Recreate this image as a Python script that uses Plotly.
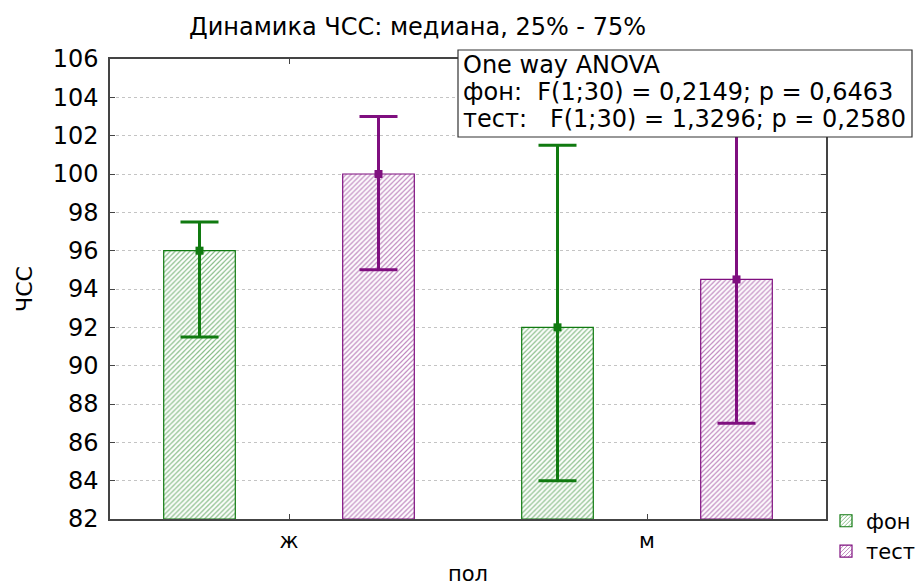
import plotly.graph_objects as go

categories = ["ж", "м"]
series_names = ["фон", "тест"]
median_fon = [96, 92]
q25_fon = [91.5, 84]
q75_fon = [97.5, 101.5]
median_test = [100, 94.5]
q25_test = [95, 87]
q75_test = [103, 103]
y_ticks = list(range(82, 107, 2))
anova_lines = [
    "One way ANOVA",
    "фон:\u00a0\u00a0F(1;30) = 0,2149; p = 0,6463",
    "тест:\u00a0\u00a0\u00a0F(1;30) = 1,3296; p = 0,2580",
]

GREEN = "#107a10"
PURPLE = "#7f0f7f"
FONT = "DejaVu Sans, Liberation Sans, Arial, sans-serif"

# plot-area geometry (pixels) used for paper-coordinate placement of text
PL, PR, PT, PB = 110, 826, 59, 519
def px(x):
    return (x - PL) / (PR - PL)
def py(y):
    return (PB - y) / (PB - PT)

series = [
    (series_names[0], median_fon, q25_fon, q75_fon, GREEN, -0.25),
    (series_names[1], median_test, q25_test, q75_test, PURPLE, 0.25),
]

fig = go.Figure()
idx = list(range(len(categories)))
for name, med, lo, hi, col, off in series:
    xs = [i + off for i in idx]
    fig.add_trace(go.Bar(
        x=xs, y=[m - 82 for m in med], base=82, width=0.2, name=name,
        marker=dict(color="white", line=dict(color=col, width=1.2),
                    pattern=dict(shape="/", fgcolor=col, bgcolor="white", size=3.5, solidity=0.35)),
        legendgroup=name, showlegend=True, hoverinfo="skip",
    ))
    fig.add_trace(go.Scatter(
        x=xs, y=med, mode="markers", name=name, legendgroup=name, showlegend=False,
        marker=dict(symbol="square", size=8, color=col),
        error_y=dict(type="data", symmetric=False,
                     array=[h - m for h, m in zip(hi, med)],
                     arrayminus=[m - l for m, l in zip(med, lo)],
                     color=col, thickness=3, width=19),
    ))

annotations = [
    dict(text="Динамика ЧСС: медиана, 25% - 75%", xref="paper", yref="paper",
         x=px(417), y=1.0, xanchor="center", yanchor="bottom", yshift=16,
         showarrow=False, font=dict(size=24, family=FONT)),
]
for line, yc in zip(anova_lines, [65, 92, 119]):
    annotations.append(dict(text=line, xref="paper", yref="paper", x=px(461), y=py(yc),
                            xanchor="left", yanchor="middle", showarrow=False,
                            font=dict(size=24, family=FONT)))

fig.update_layout(
    width=921, height=586,
    margin=dict(l=PL, r=921 - PR, t=PT, b=586 - PB, autoexpand=False),
    paper_bgcolor="white", plot_bgcolor="white",
    font=dict(family=FONT, color="black"),
    showlegend=True,
    legend=dict(x=1.0, y=0.04, xanchor="left", yanchor="top",
                font=dict(size=21, family=FONT), bgcolor="rgba(0,0,0,0)",
                itemwidth=30, tracegroupgap=0),
    annotations=annotations,
    shapes=[dict(type="rect", xref="paper", yref="paper", x0=px(458), x1=px(912),
                 y0=py(137), y1=py(50), line=dict(color="#333", width=1.2),
                 fillcolor="white", layer="above")],
    xaxis=dict(range=[-0.5, 1.5], tickvals=idx, ticktext=categories,
               ticks="inside", ticklen=5, mirror="ticks", showline=True,
               linecolor="#444", linewidth=1.5, showgrid=False, zeroline=False,
               automargin=False, ticklabelstandoff=2,
               tickfont=dict(size=21, family=FONT),
               title=dict(text="пол", font=dict(size=21, family=FONT), standoff=23)),
    yaxis=dict(range=[82, 106], tickvals=y_ticks, ticks="inside", ticklen=5,
               mirror="ticks", showline=True, linecolor="#444", linewidth=1.5,
               showgrid=True, gridcolor="#c4c4c4", griddash="dot", gridwidth=1,
               zeroline=False, automargin=False, ticklabelstandoff=5,
               tickfont=dict(size=24, family=FONT),
               title=dict(text="ЧСС", font=dict(size=22, family=FONT), standoff=14)),
)

fig.write_html("out.html", config={"displayModeBar": False},
               post_script="document.body.style.margin='0';")
